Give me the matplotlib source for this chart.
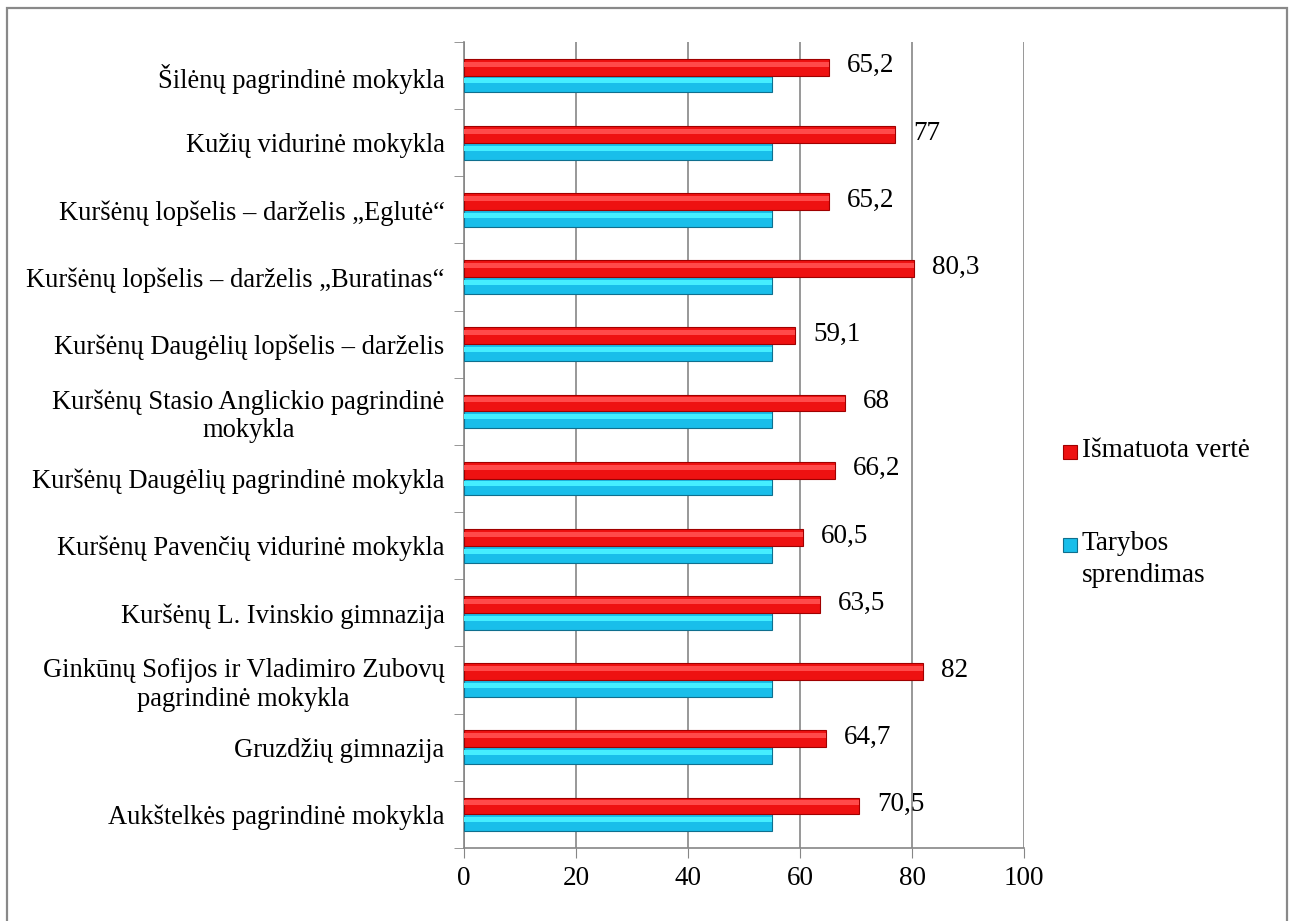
import numpy as np
import matplotlib
matplotlib.use("Agg")
import matplotlib.pyplot as plt
from matplotlib.patches import Rectangle

plt.rcParams['font.family'] = ['Liberation Serif', 'DejaVu Serif']

# categories bottom to top
schools = [
    "Aukštelkės pagrindinė mokykla",
    "Gruzdžių gimnazija",
    "Ginkūnų Sofijos ir Vladimiro Zubovų\npagrindinė mokykla",
    "Kuršėnų L. Ivinskio gimnazija",
    "Kuršėnų Pavenčių vidurinė mokykla",
    "Kuršėnų Daugėlių pagrindinė mokykla",
    "Kuršėnų Stasio Anglickio pagrindinė\nmokykla",
    "Kuršėnų Daugėlių lopšelis – darželis",
    "Kuršėnų lopšelis – darželis „Buratinas“",
    "Kuršėnų lopšelis – darželis „Eglutė“",
    "Kužių vidurinė mokykla",
    "Šilėnų pagrindinė mokykla",
]
measured = [70.5, 64.7, 82, 63.5, 60.5, 66.2, 68, 59.1, 80.3, 65.2, 77, 65.2]
council = [55, 55, 55, 55, 55, 55, 55, 55, 55, 55, 55, 55]
measured_labels = ["70,5", "64,7", "82", "63,5", "60,5", "66,2", "68", "59,1", "80,3", "65,2", "77", "65,2"]
legend_labels = ["Išmatuota vertė", "Tarybos\nsprendimas"]

red, red_edge, red_hi = "#EE1111", "#A00000", "#FF4A4A"
cyan, cyan_edge, cyan_hi = "#19BEEA", "#0F6F8E", "#45EEFF"

fig = plt.figure(figsize=(12.93, 9.21), dpi=100)
fig.patches.append(Rectangle((7 / 1293, -0.05), 1280 / 1293, 1.05 - 8 / 921, transform=fig.transFigure,
                             fill=False, edgecolor="#898989", linewidth=1.6))
ax = fig.add_axes([0.3589, 0.0793, 0.4331, 0.8751])

y = np.arange(len(schools))
h = 0.25
fs = 19.5
fs_cat = 19.1

# council bars (cyan)
ax.barh(y - h / 2, council, height=h, color=cyan, edgecolor=cyan_edge, linewidth=0.8, zorder=3)
ax.barh(y - h / 2 + h * 0.18, council, height=h * 0.3, color=cyan_hi, linewidth=0, zorder=4)
# measured bars (red)
ax.barh(y + h / 2, measured, height=h, color=red, edgecolor=red_edge, linewidth=0.8, zorder=3)
ax.barh(y + h / 2 + h * 0.18, measured, height=h * 0.3, color=red_hi, linewidth=0, zorder=4)

for yi, v, lab in zip(y, measured, measured_labels):
    ax.text(v + 3.2, yi + h / 2 + 0.02, lab, va="center", ha="left", fontsize=fs, zorder=5)

ax.set_xlim(0, 100)
ax.set_ylim(-0.5, len(schools) - 0.5)
ax.set_xticks(np.arange(0, 101, 20))
ax.set_yticks(y)
ax.set_yticklabels(schools, fontsize=fs_cat, multialignment="center")
ax.set_yticks(np.arange(-0.5, len(schools), 1), minor=True)
ax.tick_params(axis="y", which="major", length=0, pad=14)
ax.tick_params(axis="y", which="minor", length=7, color="#868686")
ax.tick_params(axis="x", length=7, color="#868686", labelsize=fs, pad=6, direction="out")

ax.grid(axis="x", color="#868686", linewidth=1.2, zorder=0)
for s in ["top", "right"]:
    ax.spines[s].set_visible(False)
for s in ["left", "bottom"]:
    ax.spines[s].set_color("#868686")
    ax.spines[s].set_linewidth(1.2)

# legend (marker aligned with first text line, as in the original)
W, H = 1293, 921
for (py, col, edge), lab in zip([(452, red, red_edge), (545, cyan, cyan_edge)], legend_labels):
    fig.patches.append(Rectangle((1063 / W, 1 - (py + 7) / H), 14 / W, 14 / H, transform=fig.transFigure,
                                 facecolor=col, edgecolor=edge, linewidth=0.8))
    fig.text(1082 / W, 1 - (py - 14) / H, lab, fontsize=fs, va="top", ha="left", linespacing=1.35)

fig.savefig("out.png", dpi=100)
